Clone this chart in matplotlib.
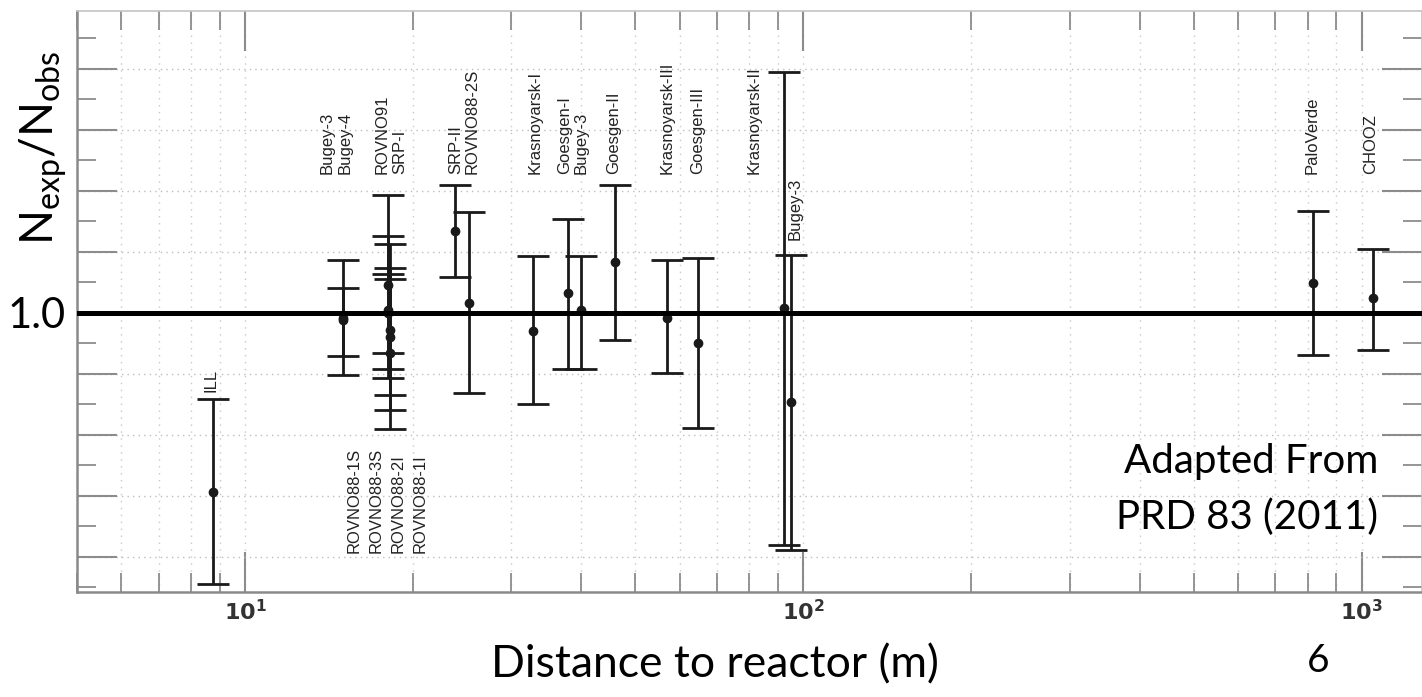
import numpy as np
import matplotlib.pyplot as plt
from matplotlib.ticker import LogLocator, NullFormatter

plt.rcParams['mathtext.fontset'] = 'custom'
plt.rcParams['mathtext.rm'] = 'Lato'
plt.rcParams['mathtext.bf'] = 'DejaVu Sans:bold'

# reactor experiments: distance (m), ratio, lower / upper end of error bar
experiments = ['ILL', 'Bugey-3', 'Bugey-4',
               'ROVNO88-2I', 'ROVNO88-1I', 'ROVNO88-3S', 'ROVNO88-1S', 'ROVNO91', 'SRP-I',
               'SRP-II', 'ROVNO88-2S', 'Krasnoyarsk-I', 'Goesgen-I', 'Bugey-3 (40m)',
               'Goesgen-II', 'Krasnoyarsk-III', 'Goesgen-III', 'Krasnoyarsk-II', 'Bugey-3 (95m)',
               'PaloVerde', 'CHOOZ']
distance = [8.76, 15.0, 15.0,
            18.0, 18.0, 18.2, 18.2, 18.0, 18.2,
            23.8, 25.2, 32.8, 37.9, 40.0,
            45.9, 57.0, 64.7, 92.3, 95.0,
            817.0, 1046.0]
ratio = [0.8533, 0.9959, 0.9943,
         1.0230, 1.0025, 0.9861, 0.9672, 1.0000, 0.9803,
         1.0672, 1.0082, 0.9852, 1.0164, 1.0025,
         1.0418, 0.9959, 0.9754, 1.0041, 0.9270,
         1.0246, 1.0123]
ratio_low = [0.7779, 0.9492, 0.9648,
             0.9541, 0.9467, 0.9205, 0.9049, 0.9672, 0.9328,
             1.0295, 0.9344, 0.9254, 0.9541, 0.9541,
             0.9779, 0.9508, 0.9057, 0.8098, 0.8057,
             0.9656, 0.9697]
ratio_high = [0.9295, 1.0434, 1.0205,
              1.0967, 1.0631, 1.0566, 1.0369, 1.0320, 1.0279,
              1.1049, 1.0828, 1.0467, 1.0770, 1.0467,
              1.1049, 1.0434, 1.0451, 1.1975, 1.0475,
              1.0836, 1.0525]

upper_labels = ['Bugey-3', 'Bugey-4', 'ROVNO91', 'SRP-I', 'SRP-II', 'ROVNO88-2S',
                'Krasnoyarsk-I', 'Goesgen-I', 'Bugey-3', 'Goesgen-II',
                'Krasnoyarsk-III', 'Goesgen-III', 'Krasnoyarsk-II', 'PaloVerde', 'CHOOZ']
upper_label_x = [14.0, 15.1, 17.6, 18.95, 23.8, 25.5,
                 33.1, 37.3, 40.0, 45.8,
                 57.0, 64.7, 81.5, 814.0, 1038.0]
lower_labels = ['ROVNO88-1S', 'ROVNO88-3S', 'ROVNO88-2I', 'ROVNO88-1I']
lower_label_x = [15.7, 17.2, 18.8, 20.6]

ratio = np.array(ratio)
yerr = [ratio - np.array(ratio_low), np.array(ratio_high) - ratio]

fig = plt.figure(figsize=(14.22, 6.97), dpi=100)
ax = fig.add_axes([77 / 1422, 1 - 592 / 697, 1 - 77 / 1422, 581 / 697])

ax.errorbar(distance, ratio, yerr=yerr, fmt='o', color='#1a1a1a', ms=6,
            elinewidth=2, capsize=11.5, capthick=2, zorder=3)
ax.axhline(1.0, color='black', lw=3.6, zorder=5)

ax.set_xscale('log')
ax.set_xlim(5.0, 1282)
ax.set_ylim(0.7713, 1.2475)

ax.set_xticks([10, 100, 1000])
ax.set_xticklabels([r'$\mathbf{10^{1}}$', r'$\mathbf{10^{2}}$', r'$\mathbf{10^{3}}$'],
                   fontsize=16, color='#333333')
ax.xaxis.set_minor_locator(LogLocator(base=10, subs=np.arange(2, 10)))
ax.xaxis.set_minor_formatter(NullFormatter())

yticks = np.round(np.arange(0.80, 1.201, 0.05), 2)
ax.set_yticks(yticks)
ax.set_yticklabels(['1.0' if abs(t - 1.0) < 1e-6 else '' for t in yticks],
                   fontsize=30, fontfamily='Lato', color='black')
ax.set_yticks(np.round(np.arange(0.775, 1.23, 0.05), 3), minor=True)

ax.tick_params(which='both', direction='in', top=True, right=True, color='#8c8c8c')
ax.tick_params(which='major', length=29, width=1.5)
ax.tick_params(which='minor', length=14, width=1.3)
ax.tick_params(axis='x', pad=5)
ax.tick_params(axis='y', pad=8)

ax.grid(True, axis='y', which='major', ls=(0, (1, 3)), color='#bdbdbd', lw=1)
ax.grid(True, axis='x', which='both', ls=(0, (1, 4)), color='#c8c8c8', lw=1)

for side in ['left', 'bottom']:
    ax.spines[side].set_color('#8a8a8a')
    ax.spines[side].set_linewidth(1.8)
for side in ['top', 'right']:
    ax.spines[side].set_color('#c4c4c4')
    ax.spines[side].set_linewidth(1.2)

for name, x in zip(upper_labels, upper_label_x):
    ax.text(x, 1.1139, name, rotation=90, ha='center', va='bottom',
            fontsize=12, family='Liberation Sans', color='#222222')
ax.text(96.6, 1.0598, 'Bugey-3', rotation=90, ha='center', va='bottom',
        fontsize=12, family='Liberation Sans', color='#222222')
ax.text(8.69, 0.9352, 'ILL', rotation=90, ha='center', va='bottom',
        fontsize=12, family='Liberation Sans', color='#222222')
for name, x in zip(lower_labels, lower_label_x):
    ax.text(x, 0.8033, name, rotation=90, ha='center', va='bottom',
            fontsize=12, family='Liberation Sans', color='#222222')

fig.text(43 / 1422, 1 - 148 / 697, r'$\mathrm{N_{exp}/N_{obs}}$', rotation=90,
         fontsize=33, ha='center', va='center')
fig.text(715 / 1422, 1 - 665 / 697, 'Distance to reactor (m)', fontsize=32,
         family='Lato', ha='center', va='center')
fig.text(1318 / 1422, 1 - 661 / 697, '6', fontsize=28, family='Lato',
         ha='center', va='center')
fig.text(1378 / 1422, 1 - 473 / 697, 'Adapted From', fontsize=29, family='Lato',
         ha='right', va='baseline')
fig.text(1378 / 1422, 1 - 529 / 697, 'PRD 83 (2011)', fontsize=29, family='Lato',
         ha='right', va='baseline')

fig.savefig('out.png', dpi=100)
